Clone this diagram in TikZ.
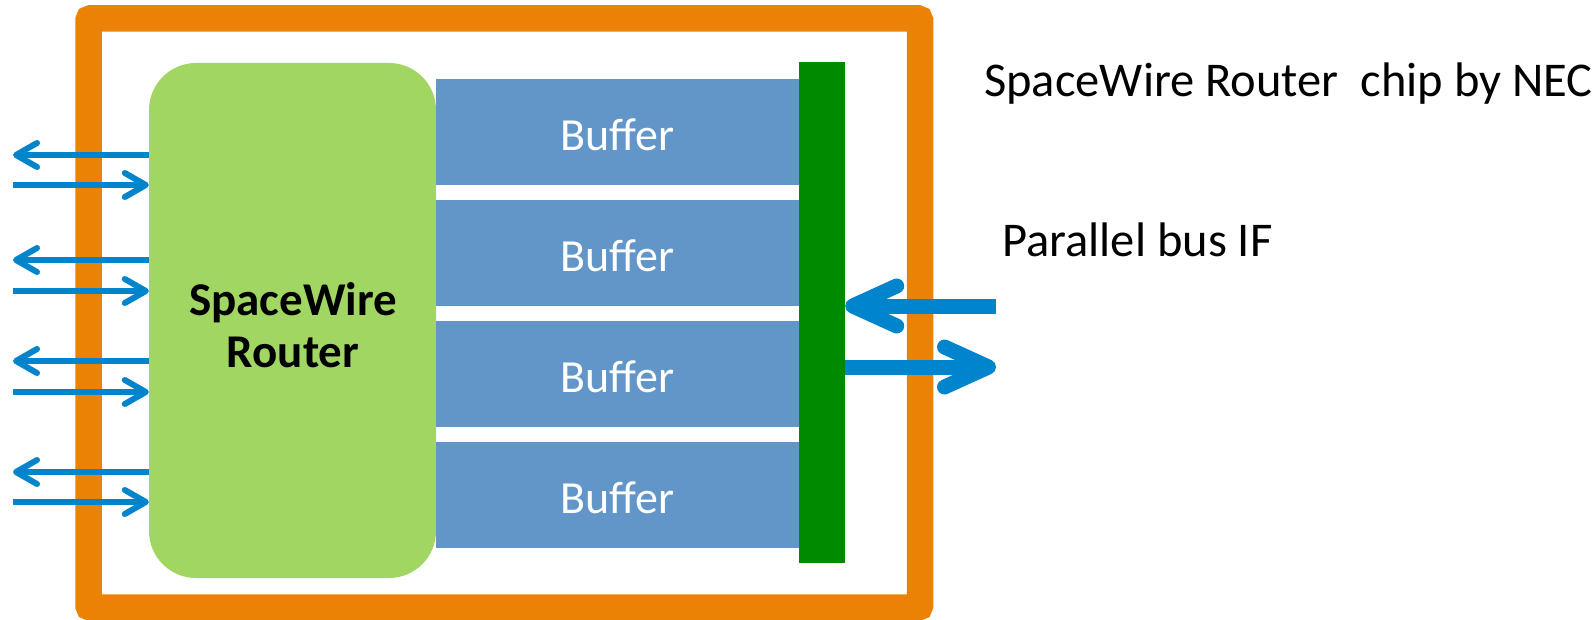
\documentclass[tikz,border=0pt]{standalone}
\usepackage{fontspec}
\setmainfont{Carlito}
\usetikzlibrary{arrows.meta}
\definecolor{frameorange}{RGB}{236,130,5}
\definecolor{routergreen}{RGB}{161,214,99}
\definecolor{bufblue}{RGB}{98,150,200}
\definecolor{busgreen}{RGB}{0,138,0}
\definecolor{arrowblue}{RGB}{0,133,205}
\tikzset{
  router/.style={fill=routergreen, rounded corners=47, minimum width=287, minimum height=515, inner sep=0, align=center, font=\fontsize{47}{52}\selectfont\bfseries},
  buffer/.style={fill=bufblue, minimum width=363, minimum height=106, inner sep=0, text=white, font=\fontsize{46}{50}\selectfont},
  busbar/.style={fill=busgreen, minimum width=46, minimum height=501, inner sep=0},
  smallarr/.style={line width=6, draw=arrowblue, -{Straight Barb[length=21, width=24, round]}},
  bigarr/.style={line width=15, draw=arrowblue, -{Straight Barb[length=44, width=40, round]}},
  label/.style={anchor=base west, inner sep=0, font=\fontsize{48.5}{54}\selectfont},
}
\begin{document}
\begin{tikzpicture}[x=1pt, y=-1pt]
\useasboundingbox (0,0) rectangle (1594,620);
% chip frame
\draw[frameorange, line width=26.5, rounded corners=2] (88.5,18.5) rectangle (920,607.5);
% router and buffers
\node[router] (router) at (292.5,320.5) {};
\node[align=center, inner sep=0, font=\fontsize{47}{52}\selectfont\bfseries] (routertext) at (293,325) {SpaceWire\\Router};
\node[buffer] (buf1) at (617.5,132) {};
\node[buffer] (buf2) at (617.5,253) {};
\node[buffer] (buf3) at (617.5,374) {};
\node[buffer] (buf4) at (617.5,495) {};
\foreach \i in {1,...,4} {
  \node[text=white, inner sep=0, font=\fontsize{46}{50}\selectfont] (buftext\i) at ([yshift=-3]buf\i.center) {Buffer};
}
\node[busbar] (bus) at (822,312.5) {};
% SpaceWire ports
\foreach \i/\ya/\yb in {1/155/185, 2/260/291, 3/361/392, 4/472/502} {
  \coordinate (out\i) at (13,\ya);
  \coordinate (in\i) at (13,\yb);
  \draw[smallarr] (router.west |- out\i) -- (out\i);
  \draw[smallarr] (in\i) -- (router.west |- in\i);
}
% parallel bus IF
\coordinate (busin) at (996,306);
\coordinate (busout) at (996,367);
\draw[bigarr] (busin) -- (bus.east |- busin);
\draw[bigarr] (bus.east |- busout) -- (busout);
% labels
\node[label] (title) at (984,97) {SpaceWire Router~ chip by NEC};
\node[label] (pbus) at (1002,257) {Parallel bus IF};
\end{tikzpicture}
\end{document}
